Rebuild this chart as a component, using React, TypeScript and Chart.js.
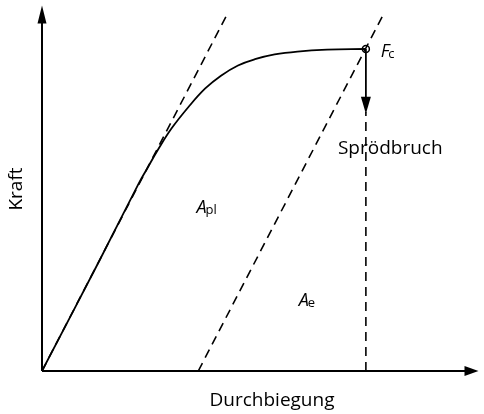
import React, { useEffect, useRef } from "react";
import { Chart, registerables } from "chart.js";

Chart.register(...registerables);

// Kraft–Durchbiegung curve (data units: x 0..100, y 0..100)
const curveX = [0, 13.2, 22.2, 24.0, 26.8, 29.7, 33.6, 37.4, 41.0, 44.9, 48.8, 53.3, 58.5, 65.3, 74.2];
const curveY = [0, 30.3, 51.4, 55.2, 61.0, 66.4, 72.3, 77.3, 80.8, 83.6, 85.3, 86.6, 87.4, 87.9, 88.1];

// elastic tangent through origin
const tangentX = [0, 42.6];
const tangentY = [0, 98];

// unloading line parallel to the tangent through Fc
const unloadX = [35.8, 78.4];
const unloadY = [0, 98];

// fracture point Fc and the brittle fracture drop
const fcX = [74.2];
const fcY = [88.1];
const dropX = [74.2, 74.2];
const dropY = [0, 70.9];
const arrowY = [88.1, 74.5];
const arrowTipY = 70.4;

// text labels (data coords: left / baseline)
const labels = [
  { main: "A", sub: "pl", x: 35.4, y: 43.2 },
  { main: "A", sub: "e", x: 58.8, y: 17.9 },
  { main: "F", sub: "c", x: 77.6, y: 85.9 },
];
const sprodLabel = { text: "Sprödbruch", x: 67.8, y: 59.5 };
const xTitle = "Durchbiegung";
const yTitle = "Kraft";

const FONT = "'Open Sans', 'Noto Sans', sans-serif";

const pts = (xs: number[], ys: number[]) => xs.map((x, i) => ({ x, y: ys[i] }));

const overlay = {
  id: "overlay",
  afterDatasetsDraw(chart: any) {
    const { ctx, chartArea, scales } = chart;
    const sx = scales.x;
    const sy = scales.y;
    const x0 = chartArea.left;
    const y0 = chartArea.bottom;
    ctx.save();
    ctx.strokeStyle = "#000";
    ctx.fillStyle = "#000";
    ctx.lineWidth = 2;
    // y axis
    ctx.beginPath();
    ctx.moveTo(x0, y0);
    ctx.lineTo(x0, chartArea.top + 14);
    ctx.stroke();
    ctx.beginPath();
    ctx.moveTo(x0, chartArea.top);
    ctx.lineTo(x0 - 4.5, chartArea.top + 18);
    ctx.lineTo(x0 + 4.5, chartArea.top + 18);
    ctx.closePath();
    ctx.fill();
    // x axis
    ctx.beginPath();
    ctx.moveTo(x0, y0);
    ctx.lineTo(chartArea.right - 10, y0);
    ctx.stroke();
    ctx.beginPath();
    ctx.moveTo(chartArea.right, y0);
    ctx.lineTo(chartArea.right - 14, y0 - 5);
    ctx.lineTo(chartArea.right - 14, y0 + 5);
    ctx.closePath();
    ctx.fill();
    // drop arrowhead
    const ax = sx.getPixelForValue(fcX[0]);
    const ay = sy.getPixelForValue(arrowTipY);
    ctx.beginPath();
    ctx.moveTo(ax, ay);
    ctx.lineTo(ax - 5, ay - 17);
    ctx.lineTo(ax + 5, ay - 17);
    ctx.closePath();
    ctx.fill();

    // texts
    ctx.textBaseline = "alphabetic";
    ctx.textAlign = "center";
    ctx.font = `19px ${FONT}`;
    ctx.fillText(xTitle, 272, y0 + 35);
    ctx.save();
    ctx.translate(22, 189);
    ctx.rotate(-Math.PI / 2);
    ctx.fillText(yTitle, 0, 0);
    ctx.restore();
    ctx.textAlign = "left";
    ctx.fillText(sprodLabel.text, sx.getPixelForValue(sprodLabel.x), sy.getPixelForValue(sprodLabel.y));
    for (const l of labels) {
      const px = sx.getPixelForValue(l.x);
      const py = sy.getPixelForValue(l.y);
      ctx.font = `italic 18px ${FONT}`;
      ctx.fillText(l.main, px, py);
      const w = ctx.measureText(l.main).width;
      ctx.font = `13px ${FONT}`;
      ctx.fillText(l.sub, px + w - 1, py + 1);
    }
    ctx.restore();
  },
};

export default function App() {
  const ref = useRef<HTMLCanvasElement>(null);
  useEffect(() => {
    const line = {
      showLine: true,
      borderColor: "#000",
      pointRadius: 0,
      fill: false,
    };
    const dash = { ...line, borderWidth: 1.6, borderDash: [9, 6] };
    const chart = new Chart(ref.current!, {
      type: "scatter",
      data: {
        datasets: [
          { ...dash, data: pts(tangentX, tangentY) },
          { ...dash, data: pts(unloadX, unloadY) },
          { ...dash, data: pts(dropX, dropY) },
          { ...line, borderWidth: 1.8, data: pts(fcX.concat(fcX), arrowY) },
          {
            ...line,
            borderWidth: 1.8,
            tension: 0.4,
            data: pts(curveX, curveY),
          },
          {
            showLine: false,
            data: pts(fcX, fcY),
            pointRadius: 3.5,
            pointBorderWidth: 1.5,
            pointBackgroundColor: "#fff",
            pointBorderColor: "#000",
          },
        ] as any,
      },
      options: {
        responsive: false,
        animation: false,
        devicePixelRatio: 1,
        layout: { padding: { left: 42, right: 1, top: 3, bottom: 43 } },
        plugins: { legend: { display: false }, tooltip: { enabled: false } },
        scales: {
          x: { type: "linear", min: 0, max: 100, display: false },
          y: { type: "linear", min: 0, max: 100, display: false },
        },
        elements: { line: { tension: 0 } },
      } as any,
      plugins: [overlay],
    });
    return () => chart.destroy();
  }, []);
  return (
    <div style={{ position: "absolute", left: 0, top: 0, width: 484, height: 414, background: "#fff" }}>
      <canvas ref={ref} width={484} height={414} />
    </div>
  );
}
